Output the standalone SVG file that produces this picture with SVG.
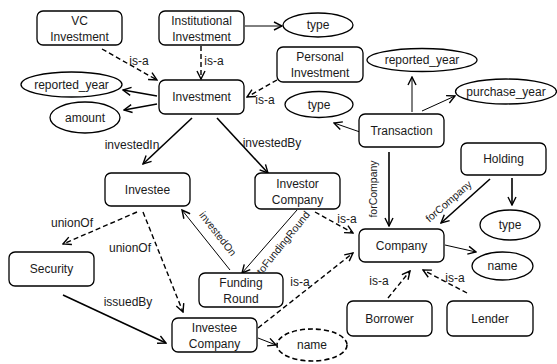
<svg xmlns="http://www.w3.org/2000/svg" width="557" height="364" viewBox="0 0 557 364">
<defs>
<marker id="ah" viewBox="0 0 10 10" refX="9" refY="5" markerWidth="10" markerHeight="10" markerUnits="userSpaceOnUse" orient="auto">
<path d="M1,1 L9,5 L1,9" fill="none" stroke="#000" stroke-width="1.4"/>
</marker>
</defs>
<style>
.n rect{fill:#fff;stroke:#000;stroke-width:1.3}
.n ellipse{fill:#fff;stroke:#000;stroke-width:1.3}
.n ellipse.d{stroke-dasharray:5,3;stroke-width:1.6}
text{font-family:"Liberation Sans",Arial,sans-serif;font-size:12px;fill:#1a1a1a;text-anchor:middle}
.c line{stroke:#000;fill:none;marker-end:url(#ah)}
.c .t{stroke-width:1}
.c .k{stroke-width:1.6}
.c .d{stroke-width:1.4;stroke-dasharray:5,3}
.l text.r{font-size:10.5px}
</style>
<g class="c" id="connectors">
<line class="d" x1="102" y1="49" x2="157" y2="80"/>
<line class="d" x1="201" y1="46" x2="201" y2="79"/>
<line class="d" x1="277" y1="80" x2="247" y2="97"/>
<line class="t" x1="245" y1="26" x2="282" y2="26"/>
<line class="k" x1="157" y1="96" x2="123" y2="90"/>
<line class="k" x1="157" y1="104" x2="124" y2="110"/>
<line class="k" x1="192" y1="118" x2="143" y2="164"/>
<line class="k" x1="217" y1="118" x2="268" y2="173"/>
<line class="t" x1="412" y1="112" x2="412" y2="77"/>
<line class="t" x1="422" y1="111" x2="455" y2="96"/>
<line class="t" x1="360" y1="132" x2="334" y2="123"/>
<line class="k" x1="389" y1="152" x2="389" y2="226"/>
<line class="k" x1="490" y1="179" x2="441" y2="223"/>
<line class="k" x1="512" y1="178" x2="512" y2="205"/>
<line class="t" x1="445" y1="245" x2="476" y2="252"/>
<line class="d" x1="388" y1="298" x2="410" y2="271"/>
<line class="d" x1="467" y1="293" x2="423" y2="270"/>
<line class="d" x1="315" y1="212" x2="353" y2="233"/>
<line class="d" x1="258" y1="328" x2="353" y2="253"/>
<line class="d" x1="137" y1="212" x2="63" y2="244"/>
<line class="d" x1="143" y1="212" x2="183" y2="312"/>
<line class="k" x1="63" y1="295" x2="166" y2="343"/>
<line class="t" x1="230" y1="270" x2="182" y2="210"/>
<line class="t" x1="297" y1="210" x2="242" y2="273"/>
<line class="t" x1="258" y1="338" x2="276" y2="345"/>
</g>
<g class="l" id="labels">
<text x="139" y="65">is-a</text>
<text x="214" y="65">is-a</text>
<text x="265" y="104">is-a</text>
<text x="132" y="149">investedIn</text>
<text x="272" y="147">investedBy</text>
<text x="72" y="227">unionOf</text>
<text x="130" y="252">unionOf</text>
<text x="128" y="306">issuedBy</text>
<text x="347" y="223">is-a</text>
<text x="300" y="286">is-a</text>
<text x="379" y="285">is-a</text>
<text x="455" y="282">is-a</text>
<text class="r" transform="translate(377,189) rotate(-90)">forCompany</text>
<text class="r" transform="translate(451,204) rotate(-41)">forCompany</text>
<text class="r" transform="translate(215,236) rotate(52)">investedOn</text>
<text class="r" transform="translate(286,245) rotate(-51)">toFundingRound</text>
</g>
<g class="n" id="vc-investment"><rect x="37" y="11" width="85" height="34" rx="6"/><text x="79.5" y="25">VC</text><text x="79.5" y="41">Investment</text></g>
<g class="n" id="institutional-investment"><rect x="159" y="11" width="85" height="34" rx="6"/><text x="201.5" y="25">Institutional</text><text x="201.5" y="41">Investment</text></g>
<g class="n" id="type-top"><ellipse cx="318" cy="25" rx="35" ry="12"/><text x="318" y="29">type</text></g>
<g class="n" id="personal-investment"><rect x="277" y="47" width="86" height="35" rx="6"/><text x="320" y="61">Personal</text><text x="320" y="77">Investment</text></g>
<g class="n" id="investment"><rect x="159" y="80" width="85" height="34" rx="6"/><text x="201.5" y="101">Investment</text></g>
<g class="n" id="reported-year-left"><ellipse cx="71.5" cy="84.5" rx="50.5" ry="12.5"/><text x="71.5" y="89">reported_year</text></g>
<g class="n" id="amount"><ellipse cx="85" cy="117.5" rx="35" ry="15.5"/><text x="85" y="122">amount</text></g>
<g class="n" id="reported-year-right"><ellipse cx="422" cy="60" rx="55" ry="11.5"/><text x="422" y="64">reported_year</text></g>
<g class="n" id="type-mid"><ellipse cx="319" cy="104.5" rx="34" ry="13"/><text x="319" y="109">type</text></g>
<g class="n" id="purchase-year"><ellipse cx="506" cy="91.5" rx="50.5" ry="12.5"/><text x="506" y="96">purchase_year</text></g>
<g class="n" id="transaction"><rect x="359" y="114" width="85" height="33" rx="6"/><text x="401.5" y="135">Transaction</text></g>
<g class="n" id="holding"><rect x="461" y="143" width="85" height="32" rx="6"/><text x="503.5" y="163">Holding</text></g>
<g class="n" id="investee"><rect x="105" y="173" width="85" height="33" rx="6"/><text x="147.5" y="194">Investee</text></g>
<g class="n" id="investor-company"><rect x="255" y="173" width="85" height="36" rx="6"/><text x="297.5" y="188">Investor</text><text x="297.5" y="204">Company</text></g>
<g class="n" id="type-low"><ellipse cx="510" cy="225" rx="30" ry="15"/><text x="510" y="229">type</text></g>
<g class="n" id="company"><rect x="359" y="229" width="85" height="33" rx="6"/><text x="401.5" y="250">Company</text></g>
<g class="n" id="name-company"><ellipse cx="502.5" cy="266" rx="30.5" ry="14"/><text x="502.5" y="270">name</text></g>
<g class="n" id="security"><rect x="9" y="252" width="85" height="34" rx="6"/><text x="51.5" y="273">Security</text></g>
<g class="n" id="funding-round"><rect x="199" y="273" width="84" height="34" rx="6"/><text x="241" y="287">Funding</text><text x="241" y="303">Round</text></g>
<g class="n" id="borrower"><rect x="347" y="301" width="85" height="35" rx="6"/><text x="389.5" y="323">Borrower</text></g>
<g class="n" id="lender"><rect x="447" y="301" width="86" height="35" rx="6"/><text x="490" y="323">Lender</text></g>
<g class="n" id="investee-company"><rect x="172" y="318" width="85" height="34" rx="6"/><text x="214.5" y="332">Investee</text><text x="214.5" y="348">Company</text></g>
<g class="n" id="name-investee"><ellipse class="d" cx="312" cy="345" rx="35" ry="16"/><text x="312" y="349">name</text></g>
</svg>
